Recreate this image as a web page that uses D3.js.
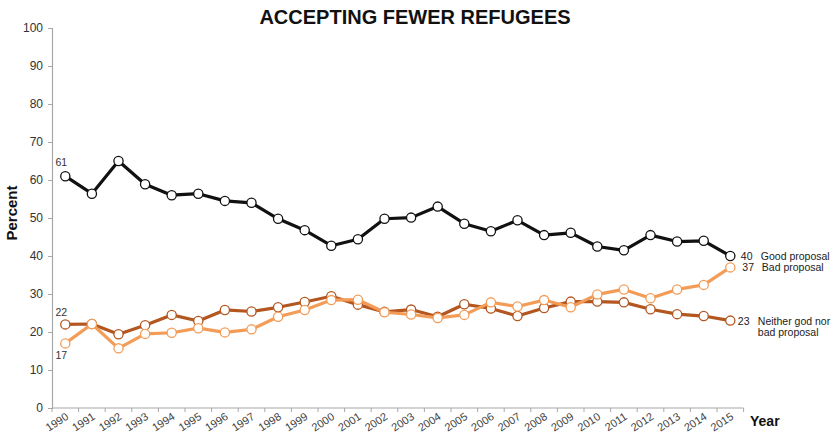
<!DOCTYPE html>
<html>
<head>
<meta charset="utf-8">
<script src="https://cdnjs.cloudflare.com/ajax/libs/d3/7.8.5/d3.min.js"></script>
<style>
  html, body { margin: 0; padding: 0; background: #fff; }
  svg { display: block; font-family: "Liberation Sans", Arial, Helvetica, sans-serif; }
</style>
</head>
<body>
<svg id="chart" width="831" height="436"></svg>
<script>
// Survey results: opinion on accepting fewer refugees, 1990–2015 (percent)
const years = [1990, 1991, 1992, 1993, 1994, 1995, 1996, 1997, 1998, 1999, 2000, 2001, 2002,
               2003, 2004, 2005, 2006, 2007, 2008, 2009, 2010, 2011, 2012, 2013, 2014, 2015];
const goodProposal = [61, 56.4, 65, 58.9, 56, 56.4, 54.5, 54, 49.8, 46.8, 42.7, 44.4, 49.8,
                      50.1, 53, 48.5, 46.5, 49.4, 45.5, 46.1, 42.5, 41.5, 45.5, 43.8, 44, 40];
const badProposal = [17, 22.1, 15.7, 19.5, 19.8, 21, 19.9, 20.7, 24, 25.8, 28.4, 28.5, 25.2,
                     24.6, 23.7, 24.5, 27.8, 26.7, 28.4, 26.5, 29.9, 31.2, 28.9, 31.2, 32.4, 37];
const neitherProposal = [22, 22.1, 19.4, 21.8, 24.5, 22.9, 25.8, 25.4, 26.5, 27.9, 29.4, 27.2, 25.3,
                         25.9, 24, 27.3, 26.2, 24.2, 26.3, 28, 28, 27.8, 26, 24.7, 24.2, 23];
const yTicks = [0, 10, 20, 30, 40, 50, 60, 70, 80, 90, 100];
const seriesNames = ["Good proposal", "Bad proposal", ["Neither god nor", "bad proposal"]];

const svg = d3.select("#chart");
const plot = { left: 52, right: 743.6, top: 28, bottom: 408 };

const x = d3.scaleBand().domain(years).range([plot.left, plot.right]);
const y = d3.scaleLinear().domain([0, 100]).range([plot.bottom, plot.top]);
const cx = yr => x(yr) + x.bandwidth() / 2;

const axisColor = "#a8a8a8";
const textColor = "#333";

// Title
svg.append("text")
  .attr("x", 415).attr("y", 23.5)
  .attr("text-anchor", "middle")
  .attr("font-size", 20).attr("font-weight", "bold").attr("fill", "#111")
  .text("ACCEPTING FEWER REFUGEES");

// Y axis
const yAxis = svg.append("g")
  .attr("transform", `translate(${plot.left},0)`)
  .call(d3.axisLeft(y).tickValues(yTicks).tickSize(4).tickPadding(5));
yAxis.select(".domain").attr("stroke", axisColor).attr("stroke-width", 1.2);
yAxis.selectAll(".tick line").attr("stroke", axisColor);
yAxis.selectAll(".tick text").attr("font-size", 12).attr("fill", textColor)
  .attr("font-family", "Liberation Sans, Arial, sans-serif");

// X axis: ticks at band boundaries, labels at band centres
const xAxis = svg.append("g").attr("transform", `translate(0,${plot.bottom})`);
xAxis.append("line")
  .attr("x1", plot.left).attr("x2", plot.right)
  .attr("stroke", axisColor).attr("stroke-width", 1.2);
xAxis.selectAll("line.tick")
  .data(years.concat([null]))
  .join("line")
  .attr("class", "tick")
  .attr("x1", (d, i) => i < years.length ? x(d) : plot.right)
  .attr("x2", (d, i) => i < years.length ? x(d) : plot.right)
  .attr("y1", 0).attr("y2", 4)
  .attr("stroke", axisColor);
xAxis.selectAll("text.lbl")
  .data(years)
  .join("text")
  .attr("class", "lbl")
  .attr("text-anchor", "end")
  .attr("transform", d => `translate(${cx(d) + 4},${10.5}) rotate(-33)`)
  .attr("font-size", 11).attr("fill", "#444")
  .text(d => d);

// Axis titles
svg.append("text")
  .attr("transform", "translate(17,213) rotate(-90)")
  .attr("text-anchor", "middle")
  .attr("font-size", 15).attr("font-weight", "bold").attr("fill", "#111")
  .text("Percent");
svg.append("text")
  .attr("x", 750).attr("y", 426)
  .attr("font-size", 14).attr("font-weight", "bold").attr("fill", "#111")
  .text("Year");

// Series lines with open markers
const series = [
  { values: neitherProposal, color: "#b4561f" },
  { values: badProposal, color: "#f39c57" },
  { values: goodProposal, color: "#111111" }
];
const line = d3.line().x((d, i) => cx(years[i])).y(d => y(d));

series.forEach(s => {
  const g = svg.append("g");
  g.append("path")
    .attr("d", line(s.values))
    .attr("fill", "none")
    .attr("stroke", s.color)
    .attr("stroke-width", 3.2)
    .attr("stroke-linejoin", "round");
  g.selectAll("circle")
    .data(s.values)
    .join("circle")
    .attr("cx", (d, i) => cx(years[i]))
    .attr("cy", d => y(d))
    .attr("r", 4.6)
    .attr("fill", "#fff")
    .attr("stroke", s.color)
    .attr("stroke-width", 1.3);
});

// Start values
const first = 0, last = years.length - 1;
const startLabels = [
  { v: goodProposal[first], dy: -10 },
  { v: neitherProposal[first], dy: -8.5 },
  { v: badProposal[first], dy: 16 }
];
startLabels.forEach(l => {
  svg.append("text")
    .attr("x", cx(years[first]) - 4)
    .attr("y", y(l.v) + l.dy)
    .attr("text-anchor", "middle")
    .attr("font-size", 10.5).attr("fill", textColor)
    .text(l.v);
});

// End values and series names
const endLabels = [
  { v: goodProposal[last], dx: 10.5, nameDx: 30.5, name: seriesNames[0], dy: 3.8 },
  { v: badProposal[last], dx: 12, nameDx: 31.5, name: seriesNames[1], dy: 3.8 },
  { v: neitherProposal[last], dx: 7.5, nameDx: 27.5, name: seriesNames[2], dy: 4 }
];
endLabels.forEach(l => {
  const bx = cx(years[last]);
  svg.append("text")
    .attr("x", bx + l.dx).attr("y", y(l.v) + l.dy)
    .attr("font-size", 10.5).attr("fill", "#222")
    .text(l.v);
  const names = Array.isArray(l.name) ? l.name : [l.name];
  names.forEach((n, k) => {
    svg.append("text")
      .attr("x", bx + l.nameDx).attr("y", y(l.v) + l.dy + k * 11)
      .attr("font-size", 10.5).attr("fill", "#222")
      .text(n);
  });
});
</script>
</body>
</html>
